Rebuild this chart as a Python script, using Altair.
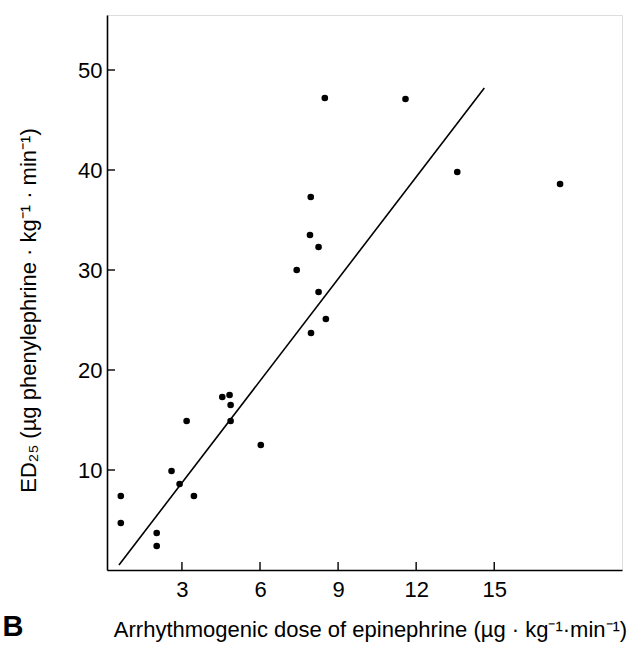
import altair as alt
import pandas as pd

# Data
dose = [0.65, 0.65, 2.03, 2.03, 2.60, 2.91, 3.18, 3.46, 4.55, 4.83, 4.87, 4.87,
        6.03, 7.96, 8.49, 7.95, 7.92, 8.25, 7.41, 8.25, 8.53, 11.59, 13.58, 17.53]
ed25 = [7.4, 4.7, 3.7, 2.4, 9.9, 8.6, 14.9, 7.4, 17.3, 17.5, 16.5, 14.9,
        12.5, 23.7, 47.2, 37.3, 33.5, 32.3, 30.0, 27.8, 25.1, 47.1, 39.8, 38.6]
fit_x = [0.58, 14.62]
fit_y = [0.5, 48.2]
x_ticks = [3, 6, 9, 12, 15]
y_ticks = [10, 20, 30, 40, 50]

pts = pd.DataFrame({"x": dose, "y": ed25})
fit = pd.DataFrame({"x": fit_x, "y": fit_y})
xt = pd.DataFrame({"t": x_ticks})
yt = pd.DataFrame({"t": y_ticks})

FONT = "Liberation Sans"
xscale = alt.Scale(domain=[0.12, 19.91], nice=False, zero=False)
yscale = alt.Scale(domain=[0, 55.5], nice=False, zero=False)

xaxis = alt.Axis(values=x_ticks, tickSize=0, labelPadding=9, grid=False,
                 domainColor="black", domainWidth=1.6, labelFont=FONT,
                 labelFontSize=22, labelColor="black",
                 title="Arrhythmogenic dose of epinephrine (µg · kg⁻¹·min⁻¹)",
                 titleFont=FONT, titleFontSize=22, titleFontWeight="normal",
                 titleColor="black", titleBaseline="alphabetic", titleY=66,
                 titleX=263)
yaxis = alt.Axis(values=y_ticks, tickSize=0, labelPadding=5, grid=False,
                 domainColor="black", domainWidth=1.6, labelFont=FONT,
                 labelFontSize=22, labelColor="black",
                 title="ED₂₅ (µg phenylephrine · kg⁻¹ · min⁻¹)",
                 titleFont=FONT, titleFontSize=22, titleFontWeight="normal",
                 titleColor="black", titleX=-79, titleY=295,
                 titleAngle=-90, titleBaseline="middle")

points = alt.Chart(pts).mark_circle(size=44, color="black", opacity=1).encode(
    x=alt.X("x:Q", scale=xscale, axis=xaxis),
    y=alt.Y("y:Q", scale=yscale, axis=yaxis),
)

line = alt.Chart(fit).mark_line(color="black", strokeWidth=1.6).encode(
    x=alt.X("x:Q", scale=xscale),
    y=alt.Y("y:Q", scale=yscale),
)

xticks = alt.Chart(xt).mark_rule(color="black", strokeWidth=1.4).encode(
    x=alt.X("t:Q", scale=xscale),
    y=alt.value(555),
    y2=alt.value(547),
)
yticks = alt.Chart(yt).mark_rule(color="black", strokeWidth=1.4).encode(
    y=alt.Y("t:Q", scale=yscale),
    x=alt.value(0),
    x2=alt.value(8),
)

label_b = alt.Chart(pd.DataFrame({"s": ["B"]})).mark_text(
    font=FONT, fontSize=29, fontWeight="bold", color="black",
    align="center", baseline="alphabetic"
).encode(text="s:N", x=alt.value(-94), y=alt.value(621))

chart = alt.layer(points, line, xticks, yticks, label_b).properties(
    width=515, height=555,
    autosize=alt.AutoSizeParams(type="none"),
    padding={"left": 107, "top": 15, "right": 22, "bottom": 73},
).configure_view(stroke=None).configure(background="white")

chart.save("out.html", embed_options={"renderer": "svg", "actions": False})
